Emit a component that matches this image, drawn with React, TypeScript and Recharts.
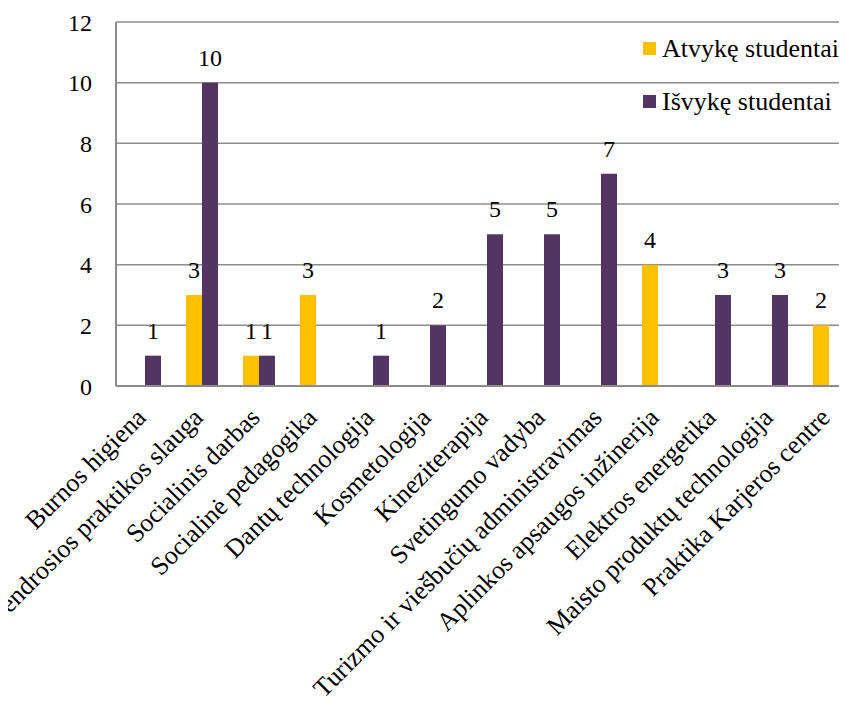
import React from 'react';
import { BarChart, Bar, XAxis, YAxis, CartesianGrid, Legend, LabelList } from 'recharts';

const categories = [
  'Burnos higiena',
  'Bendrosios praktikos slauga',
  'Socialinis darbas',
  'Socialinė pedagogika',
  'Dantų technologija',
  'Kosmetologija',
  'Kineziterapija',
  'Svetingumo vadyba',
  'Turizmo ir viešbučių administravimas',
  'Aplinkos apsaugos inžinerija',
  'Elektros energetika',
  'Maisto produktų technologija',
  'Praktika Karjeros centre',
];
const incoming = [0, 3, 1, 3, 0, 0, 0, 0, 0, 4, 0, 0, 2];
const outgoing = [1, 10, 1, 0, 1, 2, 5, 5, 7, 0, 3, 3, 0];
const yTicks = [0, 2, 4, 6, 8, 10, 12];

const SERIES = [
  { key: 'atvyke', name: 'Atvykę studentai', color: '#FFC000' },
  { key: 'isvyke', name: 'Išvykę studentai', color: '#533564' },
];

const data = categories.map((name, i) => ({ name, atvyke: incoming[i], isvyke: outgoing[i] }));

const FONT = '"Liberation Serif"';

// rotated category label, end anchored at the tick
const CategoryTick = (props: any) => {
  const { x, y, payload } = props;
  const ax = x + 3;
  const ay = y + 25;
  return (
    <text x={ax} y={ay} transform={`rotate(-45, ${ax}, ${ay})`} textAnchor="end" fontSize={26} fontFamily={FONT} fill="#000">
      {payload.value}
    </text>
  );
};

const LegendBox = () => (
  <div style={{ fontFamily: FONT, fontSize: 26, color: '#000' }}>
    {SERIES.map((s) => (
      <div key={s.key} style={{ display: 'flex', alignItems: 'center', height: 53 }}>
        <span style={{ display: 'inline-block', width: 13, height: 13, background: s.color, marginRight: 6 }} />
        <span>{s.name}</span>
      </div>
    ))}
  </div>
);

const hideZero = (v: any) => (v === 0 ? '' : v);

const App: React.FC = () => {
  return (
    <div style={{ fontFamily: FONT }}>
      <BarChart
        width={855}
        height={693}
        data={data}
        margin={{ top: 14, right: 6, bottom: 0, left: 48 }}
        barGap={0}
        barSize={16}
      >
        <CartesianGrid vertical={false} stroke="#8c8c8c" strokeWidth={1.5} />
        <XAxis
          dataKey="name"
          interval={0}
          height={315}
          axisLine={{ stroke: '#8c8c8c', strokeWidth: 2 }}
          tickLine={false}
          tick={<CategoryTick />}
        />
        <YAxis
          width={60}
          domain={[0, 12]}
          ticks={yTicks}
          interval={0}
          axisLine={{ stroke: '#8c8c8c', strokeWidth: 2 }}
          tickLine={false}
          tickSize={0}
          tickMargin={24}
          tick={{ fontSize: 24, fill: '#000', fontFamily: FONT }}
        />
        <Legend
          layout="vertical"
          align="center"
          verticalAlign="middle"
          content={<LegendBox />}
          wrapperStyle={{ position: 'absolute', left: 635, top: 14, width: 220 }}
        />
        {SERIES.map((s) => (
          <Bar key={s.key} dataKey={s.key} name={s.name} fill={s.color} isAnimationActive={false}>
            <LabelList
              dataKey={s.key}
              position="top"
              offset={17}
              formatter={hideZero}
              fontSize={24}
              fill="#000"
              fontFamily={FONT}
            />
          </Bar>
        ))}
      </BarChart>
    </div>
  );
};

export default App;
